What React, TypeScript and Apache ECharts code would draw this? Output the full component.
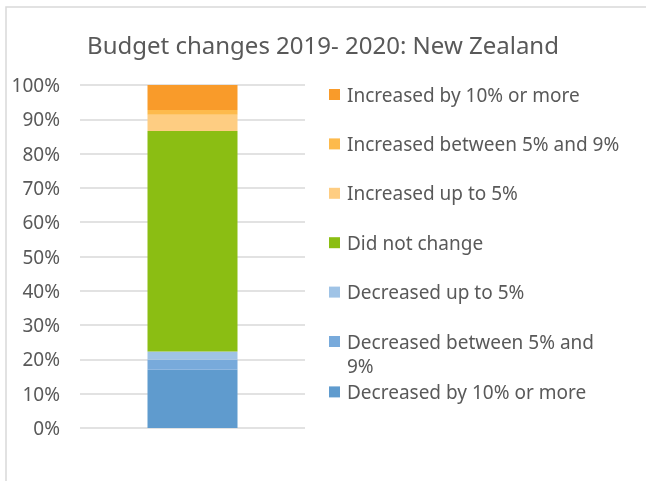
import React, { useEffect, useRef } from "react";
import * as echarts from "echarts";

const title = "Budget changes 2019- 2020: New Zealand";
const categories = ["New Zealand"];
const seriesNames = [
  "Decreased by 10% or more",
  "Decreased between 5% and 9%",
  "Decreased up to 5%",
  "Did not change",
  "Increased up to 5%",
  "Increased between 5% and 9%",
  "Increased by 10% or more",
];
const seriesValues = [17.0, 2.9, 2.4, 64.3, 4.7, 1.4, 7.3];
const seriesColors = ["#5F9BCE", "#78AADB", "#9FC3E6", "#8BBE13", "#FECD82", "#FDBA4C", "#F99B2A"];
const yTicks = { min: 0, max: 100, interval: 10 };

const FONT = "'Noto Sans', sans-serif";
const TEXT = "#595959";

export default function App() {
  const ref = useRef<HTMLDivElement>(null);
  useEffect(() => {
    if (!ref.current) return;
    const chart = echarts.init(ref.current, undefined, { renderer: "svg" });
    const legendOrder = [...seriesNames].reverse();
    const legends = legendOrder.map((name, i) => ({
      data: [name],
      orient: "vertical",
      left: 324,
      top: 80 + i * 49.4 + (i === 6 ? 1 : 0),
      icon: "rect",
      itemWidth: 11,
      itemHeight: 11,
      itemGap: 6,
      selectedMode: false,
      formatter: (n: string) => (n === "Decreased between 5% and 9%" ? "Decreased between 5% and" : n),
      textStyle: { color: TEXT, fontSize: 19, fontFamily: FONT, padding: [0, 0, 0, 2] },
    }));
    chart.setOption({
      animation: false,
      title: {
        text: title,
        left: "center",
        top: 27,
        textStyle: { color: TEXT, fontSize: 24, fontWeight: "normal", fontFamily: FONT },
      },
      legend: legends,
      grid: { left: 80, right: 341, top: 85, bottom: 53, containLabel: false },
      xAxis: {
        type: "category",
        data: categories,
        axisLine: { show: false },
        axisTick: { show: false },
        axisLabel: { show: false },
      },
      yAxis: {
        type: "value",
        min: yTicks.min,
        max: yTicks.max,
        interval: yTicks.interval,
        axisLabel: { formatter: "{value}%", color: TEXT, fontSize: 19, fontFamily: FONT, margin: 20 },
        splitLine: { lineStyle: { color: "#D9D9D9", width: 1.5 } },
        axisLine: { show: false },
        axisTick: { show: false },
      },
      series: seriesNames.map((name, i) => ({
        name,
        type: "bar",
        stack: "total",
        barWidth: "40%",
        data: [seriesValues[i]],
        itemStyle: { color: seriesColors[i] },
      })),
      graphic: [
        {
          type: "rect",
          shape: { x: 6, y: 7, width: 700, height: 500 },
          style: { fill: "none", stroke: "#D9D9D9", lineWidth: 1.5 },
          silent: true,
        },
        {
          type: "text",
          left: 347,
          top: 356,
          style: { text: "9%", fill: TEXT, fontSize: 19, fontFamily: FONT },
        },
      ],
    });
    return () => chart.dispose();
  }, []);
  return <div ref={ref} style={{ position: "fixed", left: 0, top: 0, width: 646, height: 481 }} />;
}
